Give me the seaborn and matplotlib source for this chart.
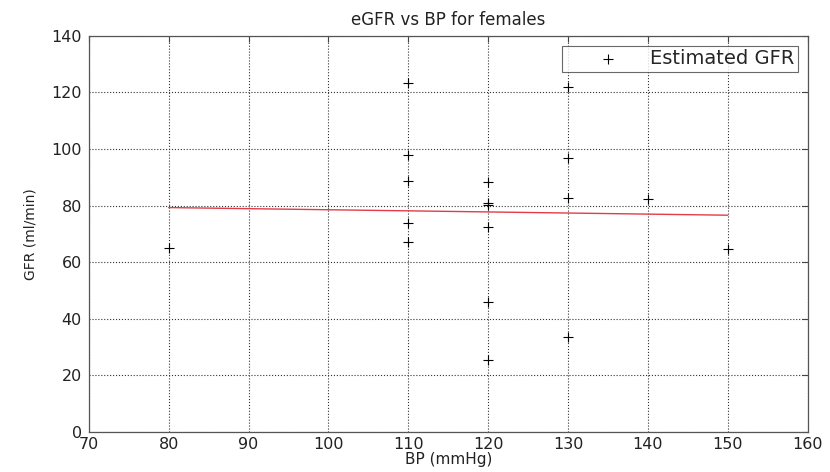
import pandas as pd
import matplotlib
matplotlib.use('Agg')
import matplotlib.pyplot as plt
import seaborn as sns

# Data
bp = [80, 110, 110, 110, 110, 110, 120, 120, 120, 120, 120, 120, 130, 130, 130, 130, 140, 150]
gfr = [65.0, 123.3, 97.9, 88.7, 73.9, 67.1, 88.3, 81.0, 80.2, 72.4, 46.0, 25.4, 121.9, 96.8, 82.7, 33.6, 82.3, 64.7]

# Fitted line end points (red trend)
fit_bp = [80, 150]
fit_gfr = [79.3, 76.6]

xticks = [70, 80, 90, 100, 110, 120, 130, 140, 150, 160]
yticks = [0, 20, 40, 60, 80, 100, 120, 140]

df = pd.DataFrame({'BP': bp, 'GFR': gfr})
df_fit = pd.DataFrame({'BP': fit_bp, 'GFR': fit_gfr})

sns.set_style('white')
plt.rcParams['font.family'] = ['DejaVu Sans']

fig = plt.figure(figsize=(8.3, 4.72), dpi=100)
ax = fig.add_axes([0.107, 0.085, 0.866, 0.839])

sns.scatterplot(data=df, x='BP', y='GFR', marker='+', color='black', s=50,
                linewidth=0.8, label='Estimated GFR', ax=ax, zorder=3)
sns.lineplot(data=df_fit, x='BP', y='GFR', color='#e23c48', linewidth=1.0,
             ax=ax, legend=False, zorder=2)

ax.set_xlim(70, 160)
ax.set_ylim(0, 140)
ax.set_xticks(xticks)
ax.set_yticks(yticks)
ax.tick_params(direction='in', top=True, right=True, length=4, labelsize=11.5,
               color='#444444', labelcolor='#222222')
ax.tick_params(axis='x', pad=3.5)
ax.tick_params(axis='y', pad=5)
ax.grid(True, linestyle=':', color='#333333', linewidth=0.8)
for sp in ax.spines.values():
    sp.set_color('#555555')
    sp.set_linewidth(0.9)

ax.set_title('eGFR vs BP for females', fontsize=12, pad=8, color='#222222')
ax.set_xlabel('BP (mmHg)', fontsize=11, labelpad=0, color='#222222')
ax.set_ylabel('GFR (ml/min)', fontsize=10, labelpad=10, color='#222222')

leg = ax.legend(loc='upper right', fontsize=14, frameon=True, fancybox=False,
                borderpad=0.2, handlelength=4.3, handletextpad=0.0,
                borderaxespad=0.5)
leg.get_frame().set_edgecolor('#444444')
leg.get_frame().set_linewidth(0.8)

fig.savefig('out.png', dpi=100)
